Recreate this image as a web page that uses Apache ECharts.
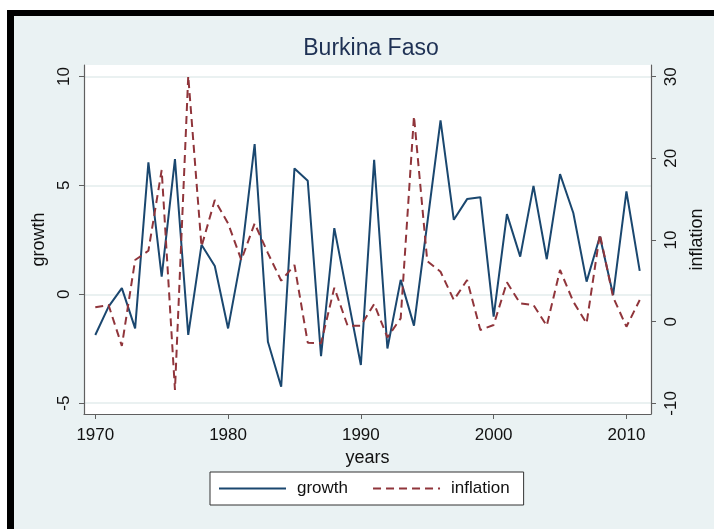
<!DOCTYPE html>
<html>
<head>
<meta charset="utf-8">
<script src="https://cdn.jsdelivr.net/npm/echarts@6/dist/echarts.min.js"></script>
<style>
  html, body { margin: 0; padding: 0; background: #fff; }
  #frame {
    position: absolute; left: 7px; top: 10px;
    border-left: 7px solid #000; border-top: 6px solid #000;
    background: #eaf2f3;
  }
  #chart { width: 700px; height: 513px; }
</style>
</head>
<body>
<div id="frame"><div id="chart"></div></div>
<script>
// years on the x axis
var years = [];
for (var y = 1970; y <= 2011; y++) years.push(y);

// annual GDP growth, %
var growth = [
  -1.87, -0.57, 0.28, -1.57, 6.06, 0.81, 6.21, -1.87, 2.27, 1.30,
  -1.57, 1.73, 6.90, -2.18, -4.25, 5.78, 5.21, -2.84, 3.04, -0.10,
  -3.25, 6.18, -2.49, 0.66, -1.44, 3.25, 7.99, 3.42, 4.37, 4.46,
  -1.03, 3.68, 1.73, 4.98, 1.61, 5.52, 3.73, 0.58, 2.65, -0.03,
  4.72, 1.07
];

// annual inflation, %
var inflation = [
  1.76, 2.04, -2.97, 7.55, 8.69, 18.57, -8.36, 30.07, 9.20, 14.90,
  12.04, 7.55, 12.04, 8.40, 5.02, 6.94, -2.57, -2.65, 4.16, -0.49,
  -0.49, 2.17, -1.91, 0.41, 25.17, 7.43, 6.12, 2.66, 5.10, -1.02,
  -0.40, 4.82, 2.25, 2.04, -0.49, 6.33, 2.45, -0.20, 10.73, 2.99,
  -0.61, 2.66
];

// tick labels
var yearTicks = [1970, 1980, 1990, 2000, 2010];
var growthTicks = [-5, 0, 5, 10];
var inflationTicks = [-10, 0, 10, 20, 30];

var FONT = '"Liberation Sans", Arial, sans-serif';
var AXIS_GRAY = '#5f5f5f';

function pairs(vals) {
    return years.map(function (yr, i) { return [yr, vals[i]]; });
}

var chart = echarts.init(document.getElementById('chart'));

chart.setOption({
    backgroundColor: '#eaf2f3',
    animation: false,
    textStyle: { fontFamily: FONT },
    title: {
        text: 'Burkina Faso',
        left: 352,
        textAlign: 'center',
        top: 16,
        textStyle: { fontFamily: FONT, fontSize: 23, fontWeight: 'normal', color: '#1e3154' }
    },
    legend: {
        left: 196,
        top: 456,
        width: 320,
        padding: [8, 14, 8, 8],
        backgroundColor: '#fff',
        borderColor: '#333',
        borderWidth: 1,
        itemWidth: 67,
        itemHeight: 12,
        itemGap: 24,
        itemStyle: { color: 'transparent', borderColor: 'transparent', borderWidth: 0 },
        textStyle: { fontFamily: FONT, fontSize: 17, color: '#111', padding: [0, 0, 0, 6] },
        data: ['growth', 'inflation']
    },
    grid: {
        left: 70,
        right: 63,
        top: 49,
        bottom: 115,
        show: true,
        backgroundColor: '#fff',
        borderWidth: 0
    },
    xAxis: {
        type: 'value',
        min: 1969.15,
        max: 2011.85,
        name: 'years',
        nameLocation: 'middle',
        nameGap: 31,
        nameTextStyle: { fontFamily: FONT, fontSize: 18, color: '#111' },
        axisLine: { show: true, onZero: false, lineStyle: { color: AXIS_GRAY, width: 1.2 } },
        axisTick: { show: true, length: 5, customValues: yearTicks, lineStyle: { color: AXIS_GRAY } },
        axisLabel: {
            customValues: yearTicks, fontSize: 17, color: '#111', margin: 13,
            formatter: function (v) { return String(v); }
        },
        splitLine: { show: false }
    },
    yAxis: [{
        type: 'value',
        position: 'left',
        min: -5.5,
        max: 10.53,
        name: 'growth',
        nameLocation: 'middle',
        nameRotate: 90,
        nameGap: 28,
        nameTextStyle: { fontFamily: FONT, fontSize: 18, color: '#111' },
        axisLine: { show: true, onZero: false, lineStyle: { color: AXIS_GRAY, width: 1.2 } },
        axisTick: { show: true, length: 5, customValues: growthTicks, lineStyle: { color: AXIS_GRAY } },
        axisLabel: { customValues: growthTicks, rotate: 90, fontSize: 17, color: '#111', margin: 11 },
        splitLine: { show: true, lineStyle: { color: '#e3eced', width: 1.5 } }
    }, {
        type: 'value',
        position: 'right',
        min: -11.3,
        max: 31.43,
        name: 'inflation',
        nameLocation: 'middle',
        nameRotate: 90,
        nameGap: 27,
        nameTextStyle: { fontFamily: FONT, fontSize: 18, color: '#111' },
        axisLine: { show: true, onZero: false, lineStyle: { color: AXIS_GRAY, width: 1.2 } },
        axisTick: { show: true, length: 5, customValues: inflationTicks, lineStyle: { color: AXIS_GRAY } },
        axisLabel: { customValues: inflationTicks, rotate: 90, fontSize: 17, color: '#111', margin: 12 },
        splitLine: { show: false }
    }],
    series: [{
        name: 'growth',
        type: 'line',
        yAxisIndex: 0,
        symbol: 'none',
        data: pairs(growth),
        lineStyle: { color: '#1a476f', width: 2 },
        itemStyle: { color: '#1a476f' }
    }, {
        name: 'inflation',
        type: 'line',
        yAxisIndex: 1,
        symbol: 'none',
        data: pairs(inflation),
        lineStyle: { color: '#90353b', width: 2, type: [8, 5] },
        itemStyle: { color: '#90353b' }
    }]
});
</script>
</body>
</html>
